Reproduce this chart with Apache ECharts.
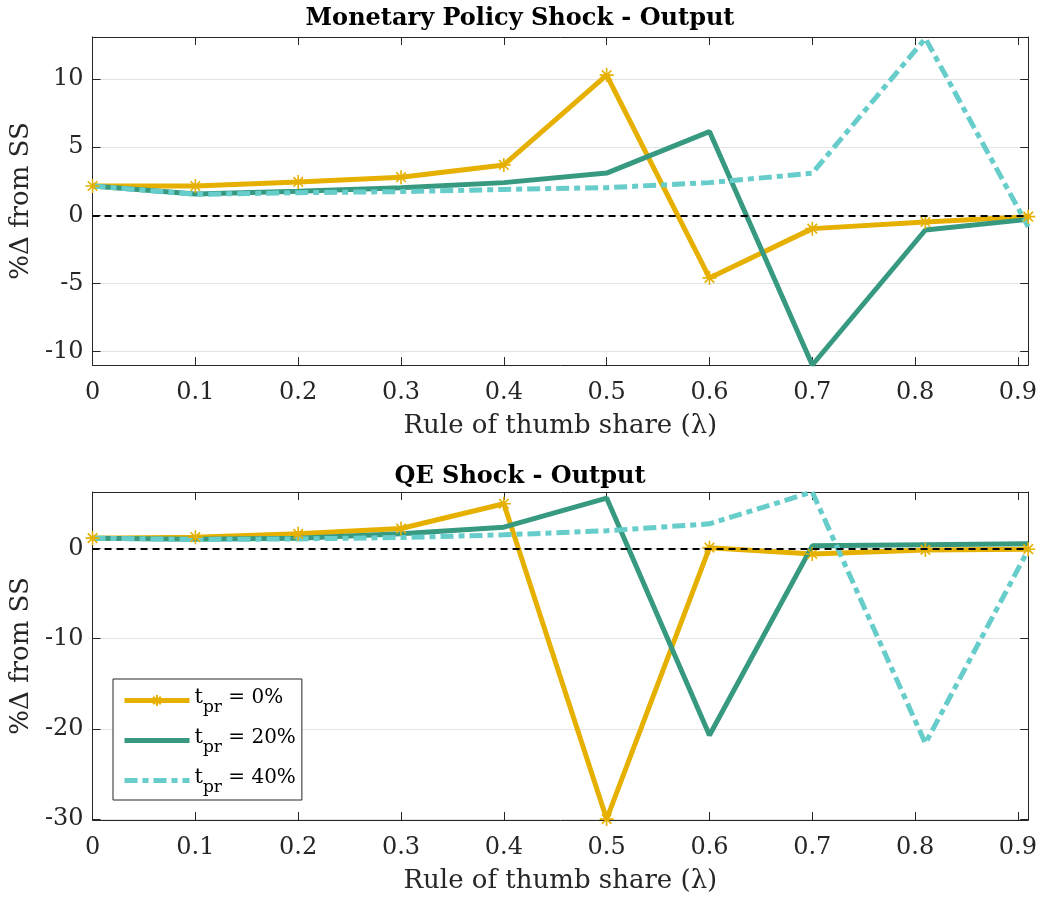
<!DOCTYPE html>
<html>
<head>
<meta charset="utf-8">
<script src="https://cdn.jsdelivr.net/npm/echarts@6/dist/echarts.min.js"></script>
<style>
html,body{margin:0;padding:0;background:#fff;}
#chart{width:1040px;height:897px;}
</style>
</head>
<body>
<div id="chart"></div>
<script>
// ---- data ----
const lambdaShare = [0, 0.1, 0.2, 0.3, 0.4, 0.5, 0.6, 0.7, 0.81, 0.91];
const shareLabels = ['0%', '20%', '40%'];
const panelTitles = ['Monetary Policy Shock - Output', 'QE Shock - Output'];
const xAxisTitle = 'Rule of thumb share (λ)';
const yAxisTitle = '%Δ from SS';

// Monetary policy shock panel
const mpTpr0  = [2.15, 2.15, 2.45, 2.8, 3.7, 10.3, -4.6, -0.98, -0.49, -0.1];
const mpTpr20 = [2.15, 1.57, 1.76, 2.03, 2.4, 3.1, 6.15, -11.0, -1.08, -0.3];
const mpTpr40 = [2.15, 1.54, 1.66, 1.74, 1.9, 2.03, 2.4, 3.09, 13.0, -0.84];

// QE shock panel
const qeTpr0  = [1.15, 1.26, 1.63, 2.22, 4.97, -30.0, 0.1, -0.6, -0.15, -0.07];
const qeTpr20 = [1.15, 1.04, 1.15, 1.63, 2.37, 5.6, -20.7, 0.3, 0.41, 0.52];
const qeTpr40 = [1.15, 1.0, 1.07, 1.22, 1.52, 1.97, 2.74, 6.27, -21.6, -0.15];

const yRanges = [[-11, 13.1], [-30.1, 6.27]];

// ---- styling ----
const FONT = 'DejaVu Serif';
const TXT = '#262626';
const COLORS = ['#E6B000', '#379A80', '#66CDCB'];
const LINE_TYPES = ['solid', 'solid', [13, 5, 6, 5]];
const ASTERISK = 'path://M5,0L5,10M0,5L10,5M1.6,1.6L8.4,8.4M1.6,8.4L8.4,1.6';
const NOMARK = 'path://M0,0L1,1';

const grids = [
  {left: 92, top: 37, width: 937, height: 328},
  {left: 92, top: 492, width: 937, height: 328}
];

function pairs(ys) { return ys.map((y, i) => [lambdaShare[i], y]); }

const xAxes = [], yAxes = [];
grids.forEach((g, gi) => {
  const common = {
    type: 'value', gridIndex: gi, min: 0, max: 0.91, interval: 0.1,
    axisLine: {show: true, onZero: false, lineStyle: {color: TXT, width: 1}},
    axisTick: {show: true, inside: true, length: 8, lineStyle: {color: TXT}},
    splitLine: {show: false}
  };
  xAxes.push(Object.assign({}, common, {
    position: 'bottom',
    name: xAxisTitle, nameLocation: 'middle', nameGap: 48,
    nameTextStyle: {fontFamily: FONT, fontSize: 26, color: TXT},
    axisLabel: {show: true, margin: 16, showMaxLabel: false, fontFamily: FONT, fontSize: 24, color: TXT,
      formatter: v => (Math.round(v * 10) / 10).toString()}
  }));
  xAxes.push(Object.assign({}, common, {position: 'top', axisLabel: {show: false}}));
  const ycommon = {
    type: 'value', gridIndex: gi, min: yRanges[gi][0], max: yRanges[gi][1],
    axisLine: {show: true, onZero: false, lineStyle: {color: TXT, width: 1}},
    axisTick: {show: true, inside: true, length: 8, lineStyle: {color: TXT}}
  };
  yAxes.push(Object.assign({}, ycommon, {
    position: 'left',
    name: yAxisTitle, nameLocation: 'middle', nameGap: 55,
    nameTextStyle: {fontFamily: FONT, fontSize: 26, color: TXT},
    splitLine: {show: true, lineStyle: {color: '#e3e3e3', width: 1}},
    axisLabel: {show: true, margin: 9, showMinLabel: false, showMaxLabel: false, fontFamily: FONT, fontSize: 24, color: TXT}
  }));
  yAxes.push(Object.assign({}, ycommon, {position: 'right', splitLine: {show: false}, axisLabel: {show: false}}));
});

const panelData = [[mpTpr0, mpTpr20, mpTpr40], [qeTpr0, qeTpr20, qeTpr40]];
const series = [];
panelData.forEach((sets, gi) => {
  sets.forEach((ys, si) => {
    const marked = si === 0;
    const s = {
      type: 'line', name: shareLabels[si],
      xAxisIndex: gi * 2, yAxisIndex: gi * 2,
      data: pairs(ys),
      color: COLORS[si],
      lineStyle: {color: COLORS[si], width: 5, type: LINE_TYPES[si]},
      showSymbol: marked,
      symbol: marked ? ASTERISK : NOMARK,
      symbolSize: 14,
      itemStyle: marked
        ? {color: COLORS[si], borderColor: COLORS[si], borderWidth: 1.6}
        : {color: 'rgba(0,0,0,0)', borderColor: 'rgba(0,0,0,0)', borderWidth: 0},
      animation: false, silent: true
    };
    if (si === 2) {
      s.markLine = {
        silent: true, symbol: ['none', 'none'], animation: false,
        label: {show: false},
        lineStyle: {color: '#000', type: [7, 5], width: 1.8},
        data: [{yAxis: 0}]
      };
    }
    series.push(s);
  });
});

const chart = echarts.init(document.getElementById('chart'), null, {renderer: 'canvas'});
chart.setOption({
  backgroundColor: '#fff',
  animation: false,
  title: panelTitles.map((t, i) => ({
    text: t, left: 'center', top: i === 0 ? 2 : 460,
    textStyle: {fontFamily: FONT, fontWeight: 'bold', fontSize: 24, color: '#000'}
  })),
  grid: grids,
  xAxis: xAxes,
  yAxis: yAxes,
  legend: {
    data: shareLabels,
    orient: 'vertical', left: 113, top: 679,
    padding: [6, 6, 4, 9], itemGap: 9,
    itemWidth: 65, itemHeight: 14,
    backgroundColor: '#fff', borderColor: TXT, borderWidth: 1, borderRadius: 0,
    lineStyle: {width: 5},
    formatter: name => '{t|t}{s|pr}{n| = ' + name + '}',
    textStyle: {
      fontFamily: FONT, color: '#000',
      rich: {
        t: {fontFamily: FONT, fontSize: 21, color: '#000', lineHeight: 33, padding: [0, 0, 6, 0]},
        s: {fontFamily: FONT, fontSize: 17, color: '#000', lineHeight: 33, padding: [14, 0, 0, 0]},
        n: {fontFamily: FONT, fontSize: 20, color: '#000', lineHeight: 33, padding: [0, 0, 6, 0]}
      }
    }
  },
  series: series
});
</script>
</body>
</html>
